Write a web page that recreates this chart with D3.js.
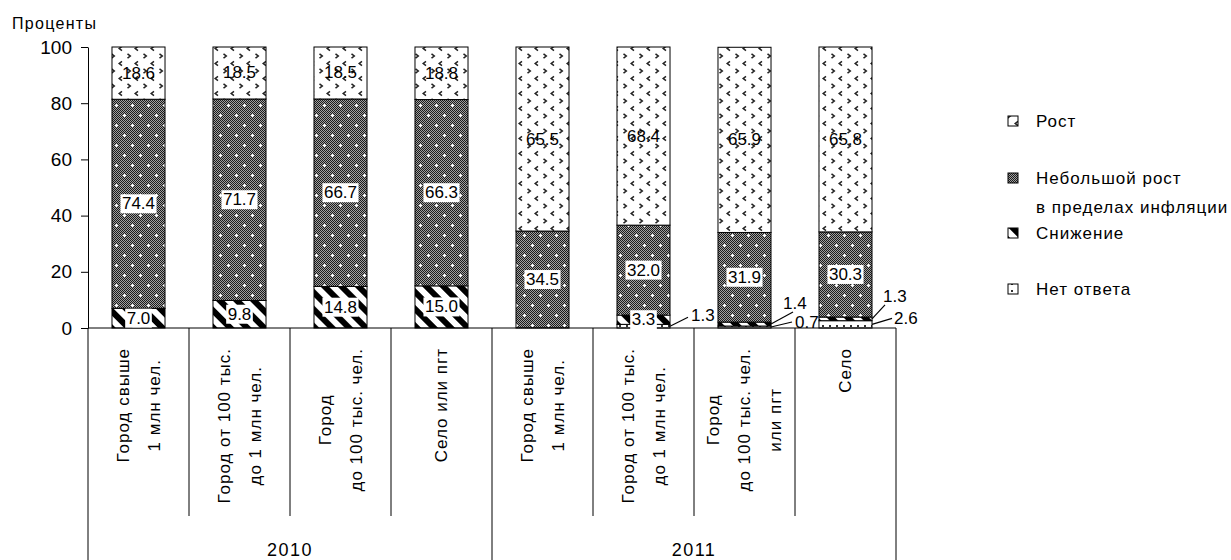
<!DOCTYPE html>
<html><head><meta charset="utf-8">
<script src="https://cdn.jsdelivr.net/npm/d3@7"></script>
<style>
html,body{margin:0;padding:0;background:#fff;}
svg{display:block;}
text{font-family:'Liberation Sans',Arial,sans-serif;fill:#000;}
</style></head>
<body><svg id="chart" width="1231" height="560"></svg>
<script>
// ---- data ----
const categories = [
  "Город свыше\n1 млн чел.",
  "Город от 100 тыс.\nдо 1 млн чел.",
  "Город\nдо 100 тыс. чел.",
  "Село или пгт",
  "Город свыше\n1 млн чел.",
  "Город от 100 тыс.\nдо 1 млн чел.",
  "Город\nдо 100 тыс. чел.\nили пгт",
  "Село"
];
const years = ["2010", "2011"];
const yearSizes = [4, 4];
const seriesNames = ["Рост", "Небольшой рост\nв пределах инфляции", "Снижение", "Нет ответа"];
const rost      = [18.6, 18.5, 18.5, 18.8, 65.5, 68.4, 65.9, 65.8];
const smallRost = [74.4, 71.7, 66.7, 66.3, 34.5, 32.0, 31.9, 30.3];
const decline   = [7.0, 9.8, 14.8, 15.0, 0, 3.3, 1.4, 1.3];
const noAnswer  = [0, 0, 0, 0, 0, 1.3, 0.7, 2.6];
const yTicks = [0, 20, 40, 60, 80, 100];
const yTitle = "Проценты";

// ---- layout ----
const svg = d3.select("#chart");
const X0 = 88, X1 = 896, Y0 = 328, Y1 = 47;
const x = d3.scaleBand().domain(d3.range(categories.length)).range([X0, X1])
  .paddingInner(0.475).paddingOuter(0.2375);
const step = x.step();
const y = d3.scaleLinear().domain([0, 100]).range([Y0, Y1]).clamp(true);

// ---- patterns ----
const defs = svg.append("defs");
// Рост: sparse chevrons
{
  const p = defs.append("pattern").attr("id", "pRost").attr("patternUnits", "userSpaceOnUse")
    .attr("width", 16).attr("height", 15);
  p.append("rect").attr("width", 16).attr("height", 15).attr("fill", "#fff");
  const ch = (cx, cy, left) => left
    ? `M${cx+2},${cy-2.2}L${cx-0.8},${cy}L${cx+2},${cy+2.2}`
    : `M${cx-2},${cy-2.2}L${cx+0.8},${cy}L${cx-2},${cy+2.2}`;
  [[8, 3.5, true], [1.5, 11, false], [17.5, 11, false]].forEach(([a, b, l]) =>
    p.append("path").attr("d", ch(a, b, l)).attr("fill", "none").attr("stroke", "#222").attr("stroke-width", 1.5));
}
// Небольшой рост: checker with white dots
{
  const c = defs.append("pattern").attr("id", "pCheck").attr("patternUnits", "userSpaceOnUse")
    .attr("width", 2).attr("height", 2);
  c.append("rect").attr("width", 2).attr("height", 2).attr("fill", "#a0a0a0");
  c.append("rect").attr("width", 1).attr("height", 1).attr("fill", "#1a1a1a");
  c.append("rect").attr("x", 1).attr("y", 1).attr("width", 1).attr("height", 1).attr("fill", "#1a1a1a");
  const p = defs.append("pattern").attr("id", "pSmall").attr("patternUnits", "userSpaceOnUse")
    .attr("width", 16).attr("height", 20);
  p.append("rect").attr("width", 16).attr("height", 20).attr("fill", "url(#pCheck)");
  [[4, 5], [12, 15]].forEach(([cx, cy]) => {
    p.append("rect").attr("x", cx - 1).attr("y", cy).attr("width", 3).attr("height", 1).attr("fill", "#fff");
    p.append("rect").attr("x", cx).attr("y", cy - 1).attr("width", 1).attr("height", 3).attr("fill", "#fff");
  });
}
// Снижение: bold diagonal stripes
{
  const p = defs.append("pattern").attr("id", "pDecl").attr("patternUnits", "userSpaceOnUse")
    .attr("width", 12).attr("height", 12).attr("patternTransform", "rotate(-45)");
  p.append("rect").attr("width", 12).attr("height", 12).attr("fill", "#fff");
  p.append("rect").attr("width", 6).attr("height", 12).attr("fill", "#000");
}
// Нет ответа: small dots
{
  const p = defs.append("pattern").attr("id", "pNo").attr("patternUnits", "userSpaceOnUse")
    .attr("width", 7).attr("height", 7);
  p.append("rect").attr("width", 7).attr("height", 7).attr("fill", "#fff");
  p.append("rect").attr("x", 3).attr("y", 3).attr("width", 2).attr("height", 2).attr("fill", "#333");
}

const series = [
  {key: "noAnswer", values: noAnswer, fill: "url(#pNo)", box: true},
  {key: "decline", values: decline, fill: "url(#pDecl)", box: true},
  {key: "small", values: smallRost, fill: "url(#pSmall)", box: true},
  {key: "rost", values: rost, fill: "url(#pRost)", box: false}
];
const legendFills = ["url(#pRost)", "url(#pSmall)", "url(#pDecl)", "url(#pNo)"];

// stack
const rows = categories.map((c, i) => {
  const r = {i};
  series.forEach(s => r[s.key] = s.values[i]);
  return r;
});
const stacked = d3.stack().keys(series.map(s => s.key))(rows);

// callouts for thin segments: [category index, series key, leader dx, dy, text dx, dy]
const callouts = [
  [5, "noAnswer", 18, -9, 21, -11],
  [6, "decline", 22, -12, 12, -21],
  [6, "noAnswer", 21, -5, 24, -5],
  [7, "decline", 13, -14, 11, -22],
  [7, "noAnswer", 20, -6, 22, -6]
];

// ---- bars ----
const gBars = svg.append("g");
stacked.forEach((layer, si) => {
  gBars.append("g").selectAll("rect").data(layer.filter(d => d[1] - d[0] > 0)).join("rect")
    .attr("x", d => x(d.data.i))
    .attr("y", d => y(d[1]))
    .attr("width", x.bandwidth())
    .attr("height", d => y(d[0]) - y(d[1]))
    .attr("fill", series[si].fill)
    .attr("stroke", "#000").attr("stroke-width", 1);
});

// ---- axes ----
const yAxis = d3.axisLeft(y).tickValues(yTicks).tickSizeInner(7).tickSizeOuter(0).tickPadding(9);
const gy = svg.append("g").attr("transform", `translate(${X0},0)`).call(yAxis);
gy.select(".domain").attr("stroke", "#000");
gy.selectAll(".tick line").attr("stroke", "#000");
gy.selectAll(".tick text").style("font-size", "19px").attr("fill", "#000");

svg.append("line").attr("x1", X0).attr("x2", X1).attr("y1", Y0).attr("y2", Y0)
  .attr("stroke", "#000").attr("stroke-width", 1);

svg.append("text").attr("x", 12).attr("y", 29).style("font-size", "16px")
  .style("letter-spacing", "1.3px").text(yTitle);

// separators
let boundaries = [0];
yearSizes.reduce((a, n) => { boundaries.push(a + n); return a + n; }, 0);
for (let k = 0; k <= categories.length; k++) {
  const xx = X0 + step * k;
  const isGroup = boundaries.includes(k);
  svg.append("line").attr("x1", xx).attr("x2", xx).attr("y1", Y0).attr("y2", isGroup ? 560 : 516)
    .attr("stroke", "#000").attr("stroke-width", 1);
}

// category labels (rotated)
categories.forEach((c, i) => {
  const lines = c.split("\n");
  const cx = x(i) + x.bandwidth() / 2;
  const g = svg.append("g");
  const texts = lines.map((ln, j) => g.append("text")
    .style("font-size", "17px").style("letter-spacing", "1px")
    .attr("text-anchor", "middle").attr("dominant-baseline", "central").text(ln));
  const maxLen = d3.max(texts.map(t => t.node().getComputedTextLength()));
  const cy = 348 + maxLen / 2;
  const lh = 31;
  texts.forEach((t, j) => {
    const off = (j - (lines.length - 1) / 2) * lh;
    t.attr("transform", `translate(${cx + off},${cy}) rotate(-90)`);
  });
});

// year labels
let start = 0;
years.forEach((yr, k) => {
  const xa = X0 + step * start, xb = X0 + step * (start + yearSizes[k]);
  svg.append("text").attr("x", (xa + xb) / 2).attr("y", 556).attr("text-anchor", "middle")
    .style("font-size", "18px").style("letter-spacing", "1.5px").text(yr);
  start += yearSizes[k];
});

// value labels
const gLab = svg.append("g");
const fmt = d3.format(".1f");
const labFont = "'Liberation Sans Narrow','Liberation Sans',sans-serif";
stacked.forEach((layer, si) => {
  const s = series[si];
  layer.forEach(d => {
    const v = d[1] - d[0];
    if (v <= 0) return;
    const i = d.data.i;
    const co = callouts.find(c => c[0] === i && c[1] === s.key);
    const top = Math.min(d[1], 100);
    const midY = (y(d[0]) + y(top)) / 2;
    if (co) {
      const ax = x(i) + x.bandwidth(), ay = midY;
      gLab.append("line").attr("x1", ax).attr("y1", ay).attr("x2", ax + co[2]).attr("y2", ay + co[3])
        .attr("stroke", "#000").attr("stroke-width", 1.2);
      gLab.append("text").attr("x", ax + co[4]).attr("y", ay + co[5]).attr("dominant-baseline", "central")
        .style("font-size", "17px").style("font-family", labFont).text(fmt(v));
    } else {
      const cx = x(i) + x.bandwidth() / 2;
      const t = gLab.append("text").attr("x", cx).attr("y", midY).attr("text-anchor", "middle")
        .attr("dominant-baseline", "central").style("font-size", "17px")
        .style("font-family", labFont).text(fmt(v));
      if (s.box) {
        const bb = t.node().getBBox();
        gLab.insert("rect", () => t.node()).attr("x", bb.x - 1.5).attr("y", bb.y).attr("width", bb.width + 3)
          .attr("height", bb.height).attr("fill", "#fff");
      }
    }
  });
});

// legend
const legY = [121, 178, 233, 289];
const gLeg = svg.append("g");
seriesNames.forEach((nm, k) => {
  gLeg.append("rect").attr("x", 1008).attr("y", legY[k] - 5).attr("width", 10).attr("height", 10)
    .attr("fill", legendFills[k]).attr("stroke", "#000").attr("stroke-width", 1);
  nm.split("\n").forEach((ln, j) => {
    gLeg.append("text").attr("x", 1036).attr("y", legY[k] + j * 29).attr("dominant-baseline", "central")
      .style("font-size", "17px").style("letter-spacing", "1px").text(ln);
  });
});
</script></body></html>
